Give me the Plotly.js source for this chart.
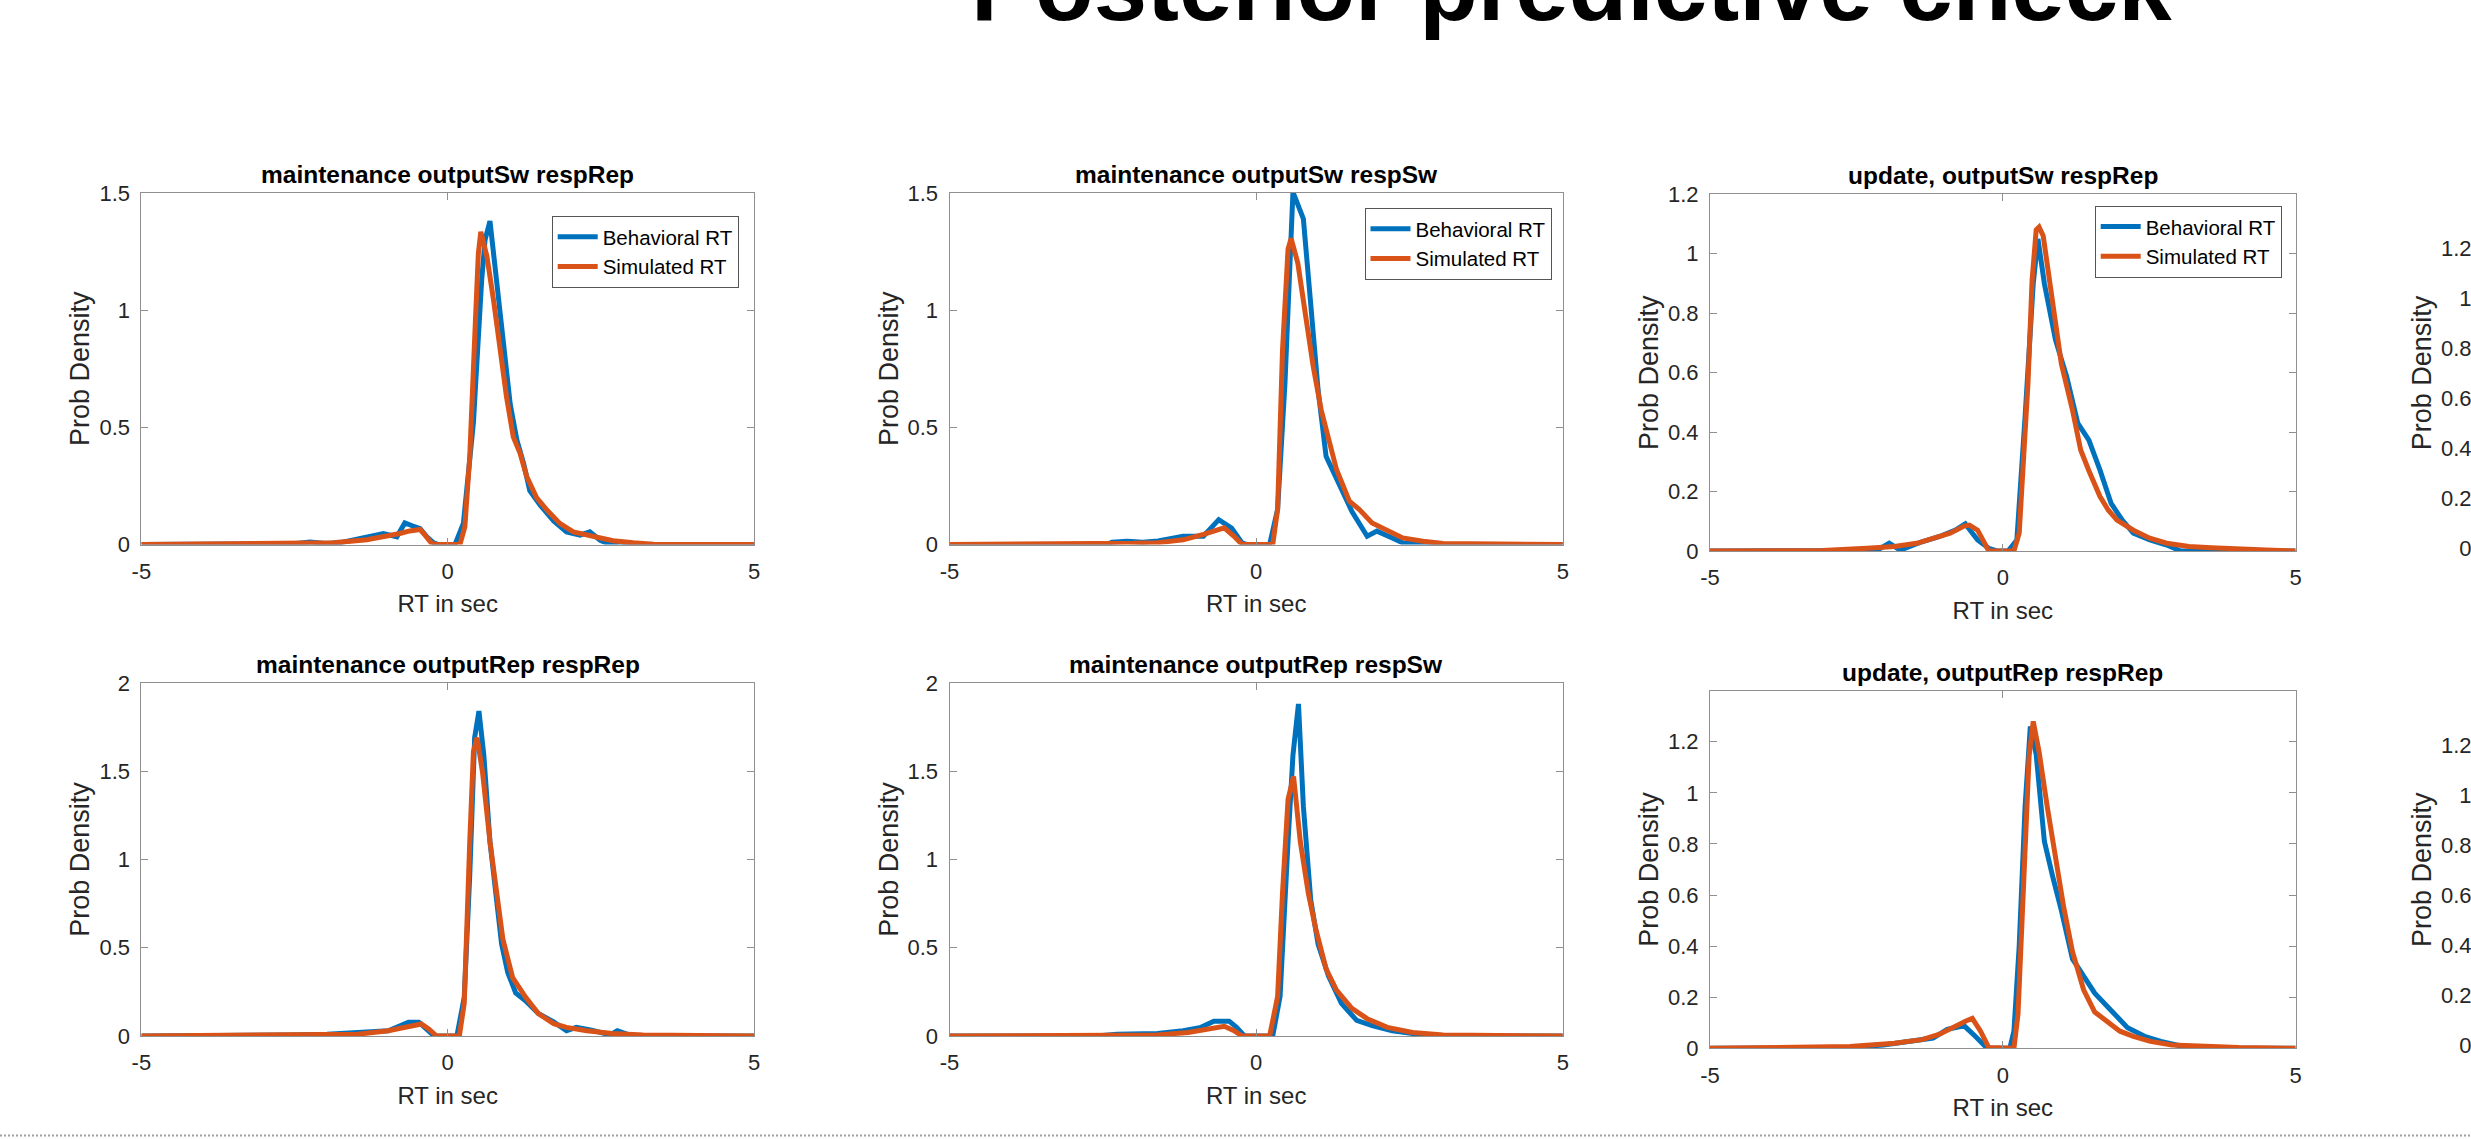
<!DOCTYPE html>
<html>
<head>
<meta charset="utf-8">
<script src="https://cdn.plot.ly/plotly-3.0.1.min.js"></script>
<style>
html,body{margin:0;padding:0;overflow:hidden;background:#ffffff;}
#chart{width:3100px;height:1139px;}
</style>
</head>
<body>
<div id="chart"></div>
<script>
// ---------------- DATA ----------------
const mainTitle = 'Posterior predictive check';
const seriesNames = ['Behavioral RT', 'Simulated RT'];
const panelTitles = [
  'maintenance outputSw respRep',
  'maintenance outputSw respSw',
  'update, outputSw respRep',
  '',
  'maintenance outputRep respRep',
  'maintenance outputRep respSw',
  'update, outputRep respRep',
  ''
];
const xTickVals = [-5, 0, 5];
const xTickText = ['-5', '0', '5'];
const yTicksA = [0, 0.5, 1, 1.5];
const yTicksB = [0, 0.5, 1, 1.5, 2];
const yTicksC = [0, 0.2, 0.4, 0.6, 0.8, 1, 1.2];
const xTitle = 'RT in sec';
const yTitle = 'Prob Density';

// panel 1: maintenance outputSw respRep
const p1BehX = [-5, -3, -2.5, -2.25, -2.0, -1.75, -1.54, -1.3, -1.05, -0.83, -0.70, -0.58, -0.45, -0.34, -0.23, -0.15, 0.12, 0.256, 0.42, 0.555, 0.61, 0.69, 0.80, 0.91, 1.02, 1.13, 1.24, 1.34, 1.51, 1.73, 1.94, 2.16, 2.32, 2.49, 2.65, 2.81, 3.03, 5];
const p1BehY = [0, 0, 0.003, 0.011, 0.004, 0.008, 0.02, 0.03, 0.047, 0.033, 0.092, 0.08, 0.068, 0.033, 0.007, 0, 0, 0.09, 0.52, 1.13, 1.30, 1.38, 1.11, 0.83, 0.60, 0.445, 0.345, 0.23, 0.168, 0.10, 0.054, 0.04, 0.054, 0.018, 0, 0.011, 0, 0];
const p1SimX = [-5, -2.5, -1.87, -1.32, -1.0, -0.78, -0.62, -0.45, -0.37, -0.26, -0.18, 0.2, 0.28, 0.36, 0.45, 0.5, 0.54, 0.64, 0.75, 0.86, 0.96, 1.07, 1.18, 1.29, 1.45, 1.62, 1.83, 2.05, 2.27, 2.49, 2.70, 3.03, 3.36, 5];
const p1SimY = [0, 0.002, 0.007, 0.02, 0.033, 0.047, 0.058, 0.064, 0.04, 0.004, 0, 0, 0.075, 0.374, 0.94, 1.24, 1.334, 1.23, 1.04, 0.815, 0.63, 0.46, 0.39, 0.29, 0.20, 0.147, 0.09, 0.054, 0.04, 0.026, 0.016, 0.007, 0.001, 0];

// panel 2: maintenance outputSw respSw
const p2BehX = [-5, -2.44, -2.35, -2.1, -1.85, -1.6, -1.19, -0.86, -0.61, -0.40, -0.23, -0.15, 0.22, 0.35, 0.47, 0.56, 0.60, 0.77, 0.89, 1.01, 1.14, 1.31, 1.56, 1.81, 1.97, 2.22, 2.39, 2.97, 5];
const p2BehY = [0, 0, 0.01, 0.014, 0.01, 0.015, 0.035, 0.035, 0.106, 0.07, 0.007, 0, 0, 0.15, 0.69, 1.33, 1.504, 1.39, 1.0, 0.66, 0.376, 0.277, 0.142, 0.035, 0.057, 0.028, 0.007, 0, 0];
const p2SimX = [-5, -2.4, -2.0, -1.6, -1.19, -0.86, -0.52, -0.36, -0.23, 0.27, 0.35, 0.43, 0.52, 0.57, 0.68, 0.81, 0.93, 1.06, 1.18, 1.31, 1.52, 1.68, 1.89, 2.14, 2.39, 2.72, 3.05, 5];
const p2SimY = [0, 0.002, 0.005, 0.008, 0.02, 0.043, 0.071, 0.035, 0, 0, 0.15, 0.83, 1.26, 1.306, 1.2, 0.97, 0.76, 0.575, 0.46, 0.32, 0.185, 0.15, 0.092, 0.057, 0.028, 0.014, 0.004, 0];

// panel 3: update, outputSw respRep
const p3BehX = [-5, -2.6, -2.1, -1.94, -1.75, -1.38, -1.09, -0.81, -0.64, -0.43, -0.24, -0.1, 0.09, 0.24, 0.38, 0.52, 0.60, 0.71, 0.90, 1.09, 1.28, 1.47, 1.66, 1.85, 2.04, 2.23, 2.51, 2.80, 3.04, 5];
const p3BehY = [0, 0.002, 0.008, 0.026, 0.003, 0.031, 0.048, 0.07, 0.091, 0.037, 0.009, 0, 0, 0.037, 0.45, 0.9, 1.05, 0.9, 0.71, 0.587, 0.43, 0.373, 0.272, 0.16, 0.104, 0.06, 0.037, 0.02, 0, 0];
const p3SimX = [-5, -3.08, -2.32, -1.85, -1.47, -1.19, -0.9, -0.66, -0.57, -0.43, -0.28, -0.24, 0.19, 0.28, 0.43, 0.5, 0.57, 0.62, 0.69, 0.81, 0.9, 1.0, 1.19, 1.33, 1.47, 1.66, 1.80, 1.95, 2.23, 2.51, 2.8, 3.18, 3.56, 4.03, 4.5, 5];
const p3SimY = [0, 0.002, 0.009, 0.015, 0.026, 0.043, 0.06, 0.084, 0.087, 0.07, 0.009, 0, 0, 0.06, 0.564, 0.91, 1.08, 1.09, 1.06, 0.9, 0.79, 0.63, 0.474, 0.34, 0.27, 0.183, 0.138, 0.104, 0.07, 0.043, 0.026, 0.015, 0.011, 0.006, 0.003, 0];

// panel 5: maintenance outputRep respRep
const p5BehX = [-5, -2.8, -2.55, -1.97, -1.39, -0.97, -0.64, -0.47, -0.35, -0.22, 0.15, 0.27, 0.36, 0.44, 0.51, 0.59, 0.69, 0.78, 0.88, 0.98, 1.11, 1.27, 1.48, 1.73, 1.94, 2.10, 2.35, 2.65, 2.77, 3.02, 5];
const p5BehY = [0, 0, 0.006, 0.01, 0.025, 0.03, 0.078, 0.078, 0.04, 0, 0, 0.22, 0.91, 1.69, 1.84, 1.59, 1.1, 0.8, 0.52, 0.36, 0.244, 0.2, 0.127, 0.08, 0.03, 0.049, 0.033, 0.006, 0.03, 0, 0];
const p5SimX = [-5, -2.5, -1.47, -0.97, -0.72, -0.43, -0.31, -0.18, 0.19, 0.27, 0.36, 0.42, 0.48, 0.57, 0.69, 0.80, 0.90, 1.06, 1.27, 1.48, 1.73, 1.94, 2.27, 2.69, 3.19, 5];
const p5SimY = [0, 0.003, 0.01, 0.03, 0.049, 0.068, 0.04, 0, 0, 0.185, 1.1, 1.61, 1.69, 1.49, 1.1, 0.82, 0.55, 0.33, 0.22, 0.127, 0.07, 0.049, 0.03, 0.014, 0.006, 0];

// panel 6: maintenance outputRep respSw
const p6BehX = [-5, -2.6, -2.27, -1.61, -1.19, -0.9, -0.69, -0.44, -0.32, -0.19, 0.27, 0.39, 0.52, 0.60, 0.69, 0.77, 0.89, 1.01, 1.18, 1.39, 1.64, 1.89, 2.22, 2.64, 3.05, 5];
const p6BehY = [0, 0, 0.01, 0.014, 0.03, 0.049, 0.084, 0.084, 0.049, 0, 0, 0.224, 1.1, 1.59, 1.88, 1.3, 0.77, 0.52, 0.34, 0.185, 0.088, 0.059, 0.03, 0.01, 0, 0];
const p6SimX = [-5, -2.5, -1.61, -1.11, -0.77, -0.52, -0.36, -0.23, 0.22, 0.35, 0.43, 0.52, 0.61, 0.72, 0.85, 0.97, 1.14, 1.31, 1.56, 1.81, 2.14, 2.55, 3.05, 5];
const p6SimY = [0, 0.002, 0.006, 0.02, 0.04, 0.055, 0.03, 0, 0, 0.224, 0.81, 1.34, 1.47, 1.1, 0.81, 0.61, 0.38, 0.26, 0.156, 0.098, 0.049, 0.02, 0.006, 0];

// panel 7: update, outputRep respRep
const p7BehX = [-5, -2.9, -2.61, -2.04, -1.57, -1.19, -0.95, -0.66, -0.47, -0.28, -0.2, 0.12, 0.19, 0.28, 0.38, 0.47, 0.57, 0.71, 0.85, 1.0, 1.19, 1.38, 1.57, 1.85, 2.13, 2.42, 2.7, 3.08, 3.37, 5];
const p7BehY = [0, 0, 0.003, 0.013, 0.027, 0.04, 0.074, 0.088, 0.047, 0.003, 0, 0, 0.067, 0.40, 0.944, 1.26, 1.15, 0.81, 0.674, 0.54, 0.35, 0.28, 0.216, 0.148, 0.081, 0.047, 0.027, 0.007, 0, 0];
const p7SimX = [-5, -3.2, -2.61, -1.85, -1.38, -1.09, -0.81, -0.62, -0.52, -0.38, -0.24, 0.19, 0.26, 0.35, 0.45, 0.52, 0.62, 0.76, 0.9, 1.04, 1.19, 1.38, 1.57, 1.76, 2.0, 2.23, 2.52, 2.89, 3.37, 4.03, 5];
const p7SimY = [0, 0.002, 0.007, 0.02, 0.034, 0.054, 0.088, 0.108, 0.117, 0.067, 0.003, 0, 0.135, 0.674, 1.146, 1.28, 1.16, 0.944, 0.74, 0.553, 0.378, 0.229, 0.142, 0.108, 0.067, 0.047, 0.027, 0.013, 0.007, 0.003, 0];

// panels 4 and 8 are cut off by the window edge: their curves are not visible
const emptyX = [];
const emptyY = [];

// ---------------- LAYOUT / STYLE ----------------
const W = 3100, H = 1139;
const FN = "'Liberation Sans', Arial, sans-serif";
const FR = "'Liberation Sans', Arial, sans-serif";
const BLUE = '#0072BD', ORANGE = '#D95319';
const AXC = '#8f8f8f';

// pixel boxes of the 8 axes (panels 4 and 8 lie mostly outside the visible window)
const boxes = [
  {l: 141.4, r: 754,    t: 193,   b: 544.5,  ymax: 1.5, yt: yTicksA},
  {l: 949.5, r: 1562.8, t: 193,   b: 544.5,  ymax: 1.5, yt: yTicksA},
  {l: 1710,  r: 2295.6, t: 194.3, b: 551,    ymax: 1.2, yt: yTicksC},
  {l: 2483,  r: 3069,   t: 198,   b: 548,    ymax: 1.4, yt: yTicksC},
  {l: 141.4, r: 754,    t: 682.8, b: 1036,   ymax: 2,   yt: yTicksB},
  {l: 949.5, r: 1562.8, t: 682.8, b: 1036,   ymax: 2,   yt: yTicksB},
  {l: 1710,  r: 2295.6, t: 690.7, b: 1048.3, ymax: 1.4, yt: yTicksC},
  {l: 2483,  r: 3069,   t: 694.8, b: 1044.8, ymax: 1.4, yt: yTicksC}
];
const curves = {
  1: [[p1BehX, p1BehY], [p1SimX, p1SimY]],
  2: [[p2BehX, p2BehY], [p2SimX, p2SimY]],
  3: [[p3BehX, p3BehY], [p3SimX, p3SimY]],
  4: [[emptyX, emptyY], [emptyX, emptyY]],
  5: [[p5BehX, p5BehY], [p5SimX, p5SimY]],
  6: [[p6BehX, p6BehY], [p6SimX, p6SimY]],
  7: [[p7BehX, p7BehY], [p7SimX, p7SimY]],
  8: [[emptyX, emptyY], [emptyX, emptyY]]
};
const legendBoxes = {1: {r: 738.7, t: 216}, 2: {r: 1551.5, t: 208}, 3: {r: 2281.7, t: 205.7}};

const traces = [];
const layout = {
  width: W, height: H,
  margin: {l: 0, r: 0, t: 0, b: 0, autoexpand: false},
  paper_bgcolor: '#ffffff', plot_bgcolor: '#ffffff',
  showlegend: true,
  annotations: [], shapes: []
};

boxes.forEach((b, i) => {
  const n = i + 1;
  const sfx = n === 1 ? '' : String(n);
  layout['xaxis' + sfx] = {
    domain: [b.l / W, b.r / W], anchor: 'y' + sfx, range: [-5, 5],
    tickvals: xTickVals, ticktext: xTickText,
    ticks: 'inside', ticklen: 7, tickwidth: 1, tickcolor: AXC,
    showline: true, linecolor: AXC, linewidth: 1, mirror: 'ticks',
    showgrid: false, zeroline: false, fixedrange: true,
    tickfont: {family: FN, size: 22, color: '#262626'},
    ticklabelstandoff: 7,
    title: {text: xTitle, font: {family: FN, size: 24, color: '#262626'}, standoff: 12}
  };
  layout['yaxis' + sfx] = {
    domain: [1 - b.b / H, 1 - b.t / H], anchor: 'x' + sfx, range: [0, b.ymax],
    tickvals: b.yt,
    ticks: 'inside', ticklen: 7, tickwidth: 1, tickcolor: AXC,
    showline: true, linecolor: AXC, linewidth: 1, mirror: 'ticks',
    showgrid: false, zeroline: false, fixedrange: true,
    tickfont: {family: FN, size: 22, color: '#262626'},
    ticklabelstandoff: 6,
    title: {text: yTitle, font: {family: FR, size: 27, color: '#262626'}, standoff: 1}
  };
  if (panelTitles[i]) {
    layout.annotations.push({
      xref: 'x' + sfx + ' domain', yref: 'y' + sfx + ' domain', x: 0.5, y: 1,
      xanchor: 'center', yanchor: 'bottom', yshift: 3, showarrow: false,
      text: '<b>' + panelTitles[i] + '</b>',
      font: {family: FN, size: 24.5, color: '#000000'}
    });
  }
  const legId = n === 1 ? 'legend' : 'legend' + n;
  curves[n].forEach((c, k) => {
    traces.push({
      type: 'scatter', mode: 'lines', x: c[0], y: c[1],
      xaxis: 'x' + sfx, yaxis: 'y' + sfx, name: seriesNames[k],
      line: {color: k === 0 ? BLUE : ORANGE, width: 5},
      cliponaxis: false, hoverinfo: 'skip',
      showlegend: !!legendBoxes[n], legend: legendBoxes[n] ? legId : 'legend'
    });
  });
  if (legendBoxes[n]) {
    layout[legId] = {
      x: legendBoxes[n].r / W, y: 1 - legendBoxes[n].t / H,
      xanchor: 'right', yanchor: 'top',
      bgcolor: '#ffffff', bordercolor: '#555555', borderwidth: 1,
      font: {family: FN, size: 20.5, color: '#000000'},
      tracegroupgap: 0, itemwidth: 40
    };
  }
});

// main title (partly cut off at top of window)
layout.annotations.push({
  xref: 'paper', yref: 'paper', x: 1571.5 / W, y: 1, xanchor: 'center', yanchor: 'middle',
  yshift: 14, showarrow: false, text: '<b>' + mainTitle + '</b>',
  font: {family: FR, size: 96, color: '#000000'}
});

// dotted separator line near bottom
layout.shapes.push({
  type: 'line', xref: 'paper', yref: 'paper', x0: 0, x1: 1,
  y0: 1 - 1135.5 / H, y1: 1 - 1135.5 / H,
  line: {color: '#a0a0a0', width: 2, dash: '2px,2px'}
});

Plotly.newPlot('chart', traces, layout, {displayModeBar: false, staticPlot: true});
</script>
</body>
</html>
